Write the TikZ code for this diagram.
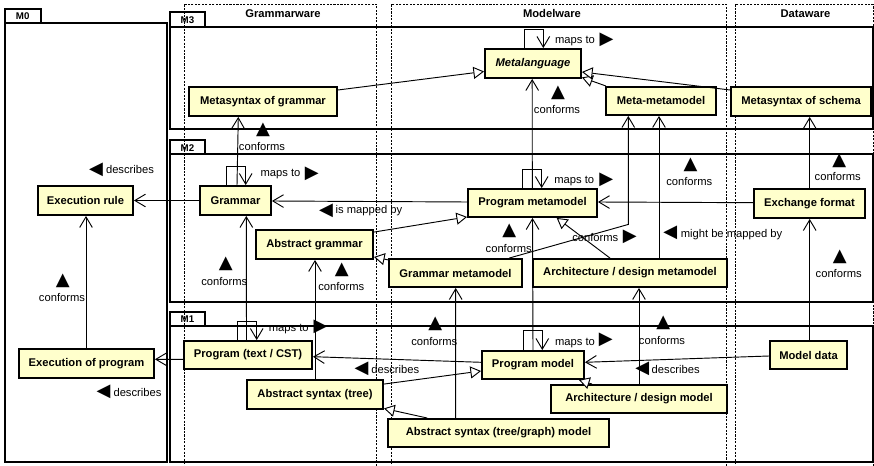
\documentclass[tikz,border=0pt]{standalone}
\usepackage{fontspec}
\setmainfont{Liberation Sans}
\newfontfamily\symfont{DejaVu Sans}
\usetikzlibrary{arrows.meta,calc}
\definecolor{boxfill}{HTML}{FFFFCC}
\begin{document}
\begin{tikzpicture}[x=0.75pt,y=-0.75pt,
  box/.style={draw=black, line width=1.4pt, fill=boxfill, inner sep=0pt, font=\fontsize{8.4}{10}\selectfont\bfseries, align=center},
  lbl/.style={inner sep=0pt, font=\fontsize{8.4}{10}\selectfont},
  sym/.style={inner sep=0pt, font=\fontsize{13.5}{14}\symfont},
  hdr/.style={inner sep=0pt, font=\fontsize{8.4}{10}\selectfont\bfseries},
  mlab/.style={inner sep=0pt, font=\fontsize{7.3}{8}\selectfont\bfseries},
  frame/.style={draw=black, line width=1.4pt},
  lane/.style={draw=black, line width=0.6pt, dash pattern=on 1.6pt off 1pt},
  dep/.style={draw=black, line width=0.7pt, -{Straight Barb[length=8pt,width=9.5pt]}},
  gen/.style={draw=black, line width=0.7pt, -{Triangle[open,length=8pt,width=9pt,fill=white]}},
]
\useasboundingbox (0,0) rectangle (874,466);
% swimlanes
\draw[lane] (184,4.5) rectangle (376.7,470);
\draw[lane] (391,4.5) rectangle (726.3,470);
\draw[lane] (735.7,4.5) rectangle (873,470);
\node[hdr] (hg) at (283,14) {Grammarware};
\node[hdr] (hm) at (552,14) {Modelware};
\node[hdr] (hd) at (805.5,14) {Dataware};
% level frames
\draw[frame] (5,9) rectangle (40.7,23.3);
\draw[frame] (5,23.3) rectangle (166.7,462.3);
\node[mlab] (m0) at (22.7,16.5) {M0};
\draw[frame] (170,12.3) rectangle (205,26.7);
\draw[frame] (170,26.7) rectangle (873,129.3);
\node[mlab] (m3) at (187.5,20.5) {M3};
\draw[frame] (170,140) rectangle (205,154);
\draw[frame] (170,154) rectangle (873,301.7);
\node[mlab] (m2) at (187.5,148) {M2};
\draw[frame] (170,312.3) rectangle (205,325.7);
\draw[frame] (170,325.7) rectangle (873,462.3);
\node[mlab] (m1) at (187.5,319.5) {M1};
% nodes M3
\node[box, minimum width=111pt, minimum height=21.75pt] (mg) at (263,101.5) {Metasyntax of grammar};
\node[box, minimum width=72pt, minimum height=21.75pt] (ml) at (533,63.5) {\itshape Metalanguage};
\node[box, minimum width=82.5pt, minimum height=21pt] (mm) at (661,101) {Meta-metamodel};
\node[box, minimum width=105pt, minimum height=21.75pt] (ms) at (801,101.5) {Metasyntax of schema};
% nodes M2
\node[box, minimum width=71.25pt, minimum height=21.75pt] (er) at (85.5,200.5) {Execution rule};
\node[box, minimum width=53.25pt, minimum height=21.75pt] (gr) at (235.5,200.5) {Grammar};
\node[box, minimum width=87.75pt, minimum height=21.75pt] (ag) at (314.5,244.5) {Abstract grammar};
\node[box, minimum width=96.75pt, minimum height=21pt] (pmm) at (532.5,203) {Program metamodel};
\node[box, minimum width=99.75pt, minimum height=21pt] (gmm) at (455.5,273) {Grammar metamodel};
\node[box, minimum width=145.5pt, minimum height=21pt] (amm) at (630,273) {Architecture / design metamodel};
\node[box, minimum width=83.25pt, minimum height=21.75pt] (ef) at (809.5,203.5) {Exchange format};
% nodes M1
\node[box, minimum width=101.25pt, minimum height=21.75pt] (ep) at (86.5,363.5) {Execution of program};
\node[box, minimum width=96pt, minimum height=21pt] (pt) at (248,355) {Program (text / CST)};
\node[box, minimum width=102pt, minimum height=21.75pt] (ast) at (315,394.5) {Abstract syntax (tree)};
\node[box, minimum width=165.75pt, minimum height=21pt] (astm) at (498.5,433) {Abstract syntax (tree/graph) model};
\node[box, minimum width=76.5pt, minimum height=21pt] (pm) at (533,365) {Program model};
\node[box, minimum width=132pt, minimum height=21pt] (adm) at (639,399) {Architecture / design model};
\node[box, minimum width=57.75pt, minimum height=21pt] (md) at (808.5,355) {Model data};
% connectors M3
\draw[gen] ($(mg.east)+(0,-11.5)$) -- ($(ml.west)+(0,8)$);
\draw[gen] ($(mm.north west)+(1,0)$) -- ($(ml.south east)+(0,-1.5)$);
\draw[gen] ($(ms.west)+(0,-11.5)$) -- ($(ml.east)+(0,8.5)$);
\draw[dep] ($(ml.north)+(-8.7,0)$) -- ++(0,-18.3) -| ($(ml.north)+(10.3,0)$);
% connectors M2
\draw[dep] ($(gr.north)+(1.5,0)$) -- ($(mg.south)+(-24.7,0)$);
\draw[dep] ($(gr.north)+(-8.8,0)$) -- ++(0,-18.7) -| ($(gr.north)+(10.2,0)$);
\draw[dep] (gr.west) -- (er.east);
\draw[dep] ($(pmm.west)+(0,-1)$) -- ($(gr.east)+(0,0.5)$);
\draw[dep] ($(ep.north)+(-0.5,0)$) -- ($(er.south)+(0.5,0)$);
\draw[dep] ($(pt.north)+(-1.5,0)$) -- ($(gr.south)+(10.8,0)$);
\draw[dep] ($(pt.north)+(-10.3,0)$) -- ++(0,-18.3) -| ($(pt.north)+(8.7,0)$);
\draw[dep] (ast.north) -- ($(ag.south)+(0.5,0)$);
\draw[gen] ($(ag.north east)+(0,3)$) -- ($(pmm.south west)+(0,-1)$);
\draw[gen] ($(gmm.north west)+(1,2)$) -- ($(ag.south east)+(0,-3)$);
\draw[dep] ($(gmm.north east)+(-13.7,0)$) -- ($(mm.south)+(-32.7,108.5)$) -- ($(mm.south)+(-32.7,0)$);
\draw[dep] (pm.north) -- (pmm.south);
\draw[dep] ($(pmm.north)+(-0.2,0)$) -- ($(ml.south)+(-0.8,0)$);
\draw[dep] ($(pmm.north)+(-9.8,0)$) -- ++(0,-18.3) -| ($(pmm.north)+(9.2,0)$);
\draw[dep] ($(amm.north)+(29,0)$) -- ($(mm.south)+(-2,0)$);
\draw[gen] ($(amm.north)+(-20,0)$) -- ($(pmm.south)+(24.2,0)$);
\draw[dep] ($(ef.west)+(0,-0.8)$) -- ($(pmm.east)+(0,-1)$);
\draw[dep] ($(ef.north)+(0.2,0)$) -- ($(ms.south)+(8.7,0)$);
% connectors M1
\draw[dep] ($(md.north)+(1.2,0)$) -- ($(ef.south)+(0.2,0)$);
\draw[dep] ($(md.west)+(0,1)$) -- ($(pm.east)+(0,-2.7)$);
\draw[dep] ($(pm.north)+(-9.7,0)$) -- ++(0,-19.3) -| ($(pm.north)+(9.3,0)$);
\draw[gen] ($(adm.north west)+(42,0)$) -- ($(pm.south east)+(-6,0)$);
\draw[dep] (adm.north) -- ($(amm.south)+(9,0)$);
\draw[dep] ($(astm.north)+(-42.8,0)$) -- ($(gmm.south)+(0.2,0)$);
\draw[gen] ($(astm.north west)+(40.3,0)$) -- ($(ast.south east)+(0,-1.5)$);
\draw[gen] ($(ast.north east)+(0,5)$) -- ($(pm.west)+(0,6)$);
\draw[dep] ($(pm.west)+(0,-2.7)$) -- ($(pt.east)+(0,1.7)$);
\draw[dep] ($(pt.west)+(0,4.3)$) -- ($(ep.east)+(0,-4.2)$);
% labels
\node[sym] (s1) at (263,130) {▲}; \node[lbl] (t1) at (262,147) {conforms};
\node[sym] (s2) at (558,93) {▲}; \node[lbl] (t2) at (557,110) {conforms};
\node[lbl] (t3) at (575,41.5) {maps to}; \node[sym] (s3) at (606.5,40) {▶};
\node[lbl] (t4) at (280.5,174) {maps to}; \node[sym] (s4) at (311.7,174) {▶};
\node[sym] (s5) at (96,169.7) {◀}; \node[lbl] (t5) at (130,170) {describes};
\node[sym] (s6) at (326,211) {◀}; \node[lbl] (t6) at (369,211) {is mapped by};
\node[sym] (s7) at (62.8,280.5) {▲}; \node[lbl] (t7) at (62,297.7) {conforms};
\node[sym] (s8) at (225.8,264) {▲}; \node[lbl] (t8) at (224.3,281.7) {conforms};
\node[sym] (s9) at (341.8,270.3) {▲}; \node[lbl] (t9) at (341.3,286.7) {conforms};
\node[sym] (s10) at (509.2,231.3) {▲}; \node[lbl] (t10) at (508.7,249) {conforms};
\node[lbl] (t11) at (574.2,180.7) {maps to}; \node[sym] (s11) at (606.2,179.7) {▶};
\node[lbl] (t12) at (595.3,237.3) {conforms}; \node[sym] (s12) at (629.7,237.2) {▶};
\node[sym] (s13) at (690.5,164.5) {▲}; \node[lbl] (t13) at (689.3,181.7) {conforms};
\node[sym] (s14) at (670.2,233) {◀}; \node[lbl] (t14) at (731.5,234.3) {might be mapped by};
\node[sym] (s15) at (839.2,160.5) {▲}; \node[lbl] (t15) at (837.7,176.7) {conforms};
\node[sym] (s16) at (839.8,256.7) {▲}; \node[lbl] (t16) at (838.7,274) {conforms};
\node[lbl] (t17) at (288.7,329.3) {maps to}; \node[sym] (s17) at (320.5,327.3) {▶};
\node[sym] (s18) at (435.2,323.8) {▲}; \node[lbl] (t18) at (434.3,341.7) {conforms};
\node[lbl] (t19) at (575,342.7) {maps to}; \node[sym] (s19) at (605.8,340.3) {▶};
\node[sym] (s20) at (663.2,322.5) {▲}; \node[lbl] (t20) at (662,340.7) {conforms};
\node[sym] (s21) at (642.2,368.7) {◀}; \node[lbl] (t21) at (675.7,369) {describes};
\node[sym] (s22) at (361.5,369.2) {◀}; \node[lbl] (t22) at (395.3,369.3) {describes};
\node[sym] (s23) at (103.5,392.2) {◀}; \node[lbl] (t23) at (137.5,392.3) {describes};
\end{tikzpicture}
\end{document}
